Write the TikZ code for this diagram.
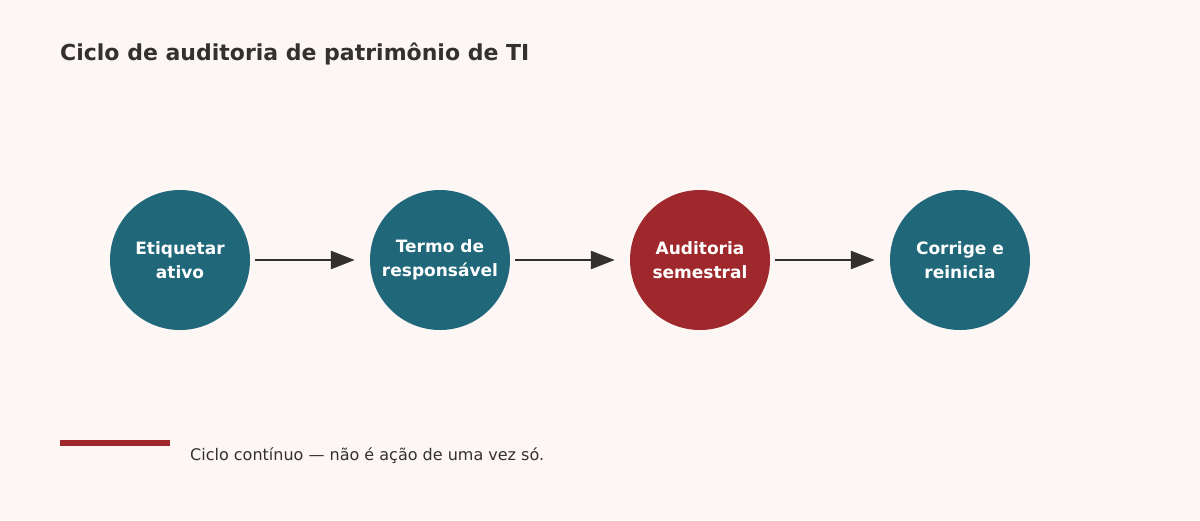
\documentclass[tikz,border=0pt]{standalone}
\usepackage{fontspec}
\setmainfont{DejaVu Sans}
\usetikzlibrary{positioning, arrows.meta}
\definecolor{bgcol}{HTML}{FCF7F4}
\definecolor{tealcol}{HTML}{20677A}
\definecolor{redcol}{HTML}{9E282B}
\definecolor{inkcol}{HTML}{333030}
\tikzset{
  stage/.style={circle, fill=tealcol, minimum size=140pt, inner sep=0pt, align=center,
    text=white, font=\fontsize{17}{24}\selectfont\bfseries},
  flow/.style={-{Triangle[length=24pt, width=18pt]}, line width=2.5pt, draw=inkcol}
}
\begin{document}
\begin{tikzpicture}[x=1pt, y=-1pt]
    % Background
    \fill[bgcol] (0,0) rectangle (1200,520);
    \useasboundingbox (0,0) rectangle (1200,520);

    % Title
    \node[anchor=base west, text=inkcol, font=\fontsize{22}{26}\selectfont\bfseries, inner sep=0pt] (title) at (60,60) {Ciclo de auditoria de patrimônio de TI};

    % Stages
    \node[stage] (tag) at (180,260) {Etiquetar\\ativo};
    \node[stage] (term) at (440,260) {Termo de\\responsável};
    \node[stage, fill=redcol] (audit) at (700,260) {Auditoria\\semestral};
    \node[stage] (fix) at (960,260) {Corrige e\\reinicia};

    % Arrows between stages
    \foreach \a/\b in {tag/term, term/audit, audit/fix} {
      \draw[flow] ([xshift=5pt]\a.east) -- ([xshift=-15pt]\b.west);
    }

    % Legend
    \coordinate (legA) at (60,443);
    \coordinate (legB) at (170,443);
    \draw[redcol, line width=6pt] (legA) -- (legB);
    \node[anchor=west, text=inkcol, font=\fontsize{16}{20}\selectfont, inner sep=0pt] (note) at (190,456) {Ciclo contínuo — não é ação de uma vez só.};
\end{tikzpicture}
\end{document}
